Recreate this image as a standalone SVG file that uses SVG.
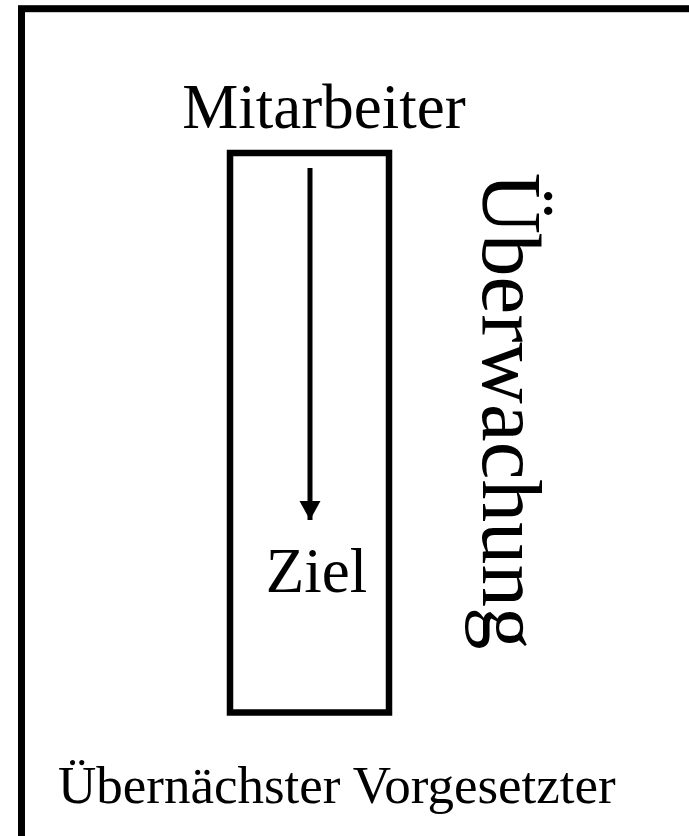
<svg xmlns="http://www.w3.org/2000/svg" width="689" height="836" viewBox="0 0 689 836">
<style>
  .box { fill: none; stroke: #000; }
  .lbl { font-family: "Liberation Serif", "Times New Roman", serif; fill: #000; }
</style>
<defs>
  <marker id="ah" markerUnits="userSpaceOnUse" markerWidth="22" markerHeight="22" refX="19" refY="11" orient="auto">
    <path d="M0,0.5 L19,11 L0,21.5 Z" fill="#000"/>
  </marker>
</defs>
<rect width="689" height="836" fill="#fff"/>
<g id="outer">
  <rect class="box" x="21.5" y="8.7" width="700" height="860" stroke-width="7"/>
  <text class="lbl" x="58" y="803" font-size="53">Übernächster Vorgesetzter</text>
</g>
<g id="inner">
  <rect class="box" x="230" y="153" width="159" height="559.5" stroke-width="6.5"/>
</g>
<g id="mitarbeiter">
  <text class="lbl" x="324" y="128" font-size="63" text-anchor="middle">Mitarbeiter</text>
</g>
<g id="ziel">
  <text class="lbl" x="316.5" y="592" font-size="63" text-anchor="middle">Ziel</text>
</g>
<g id="ueberwachung">
  <text class="lbl" font-size="85" text-anchor="middle" transform="translate(483,411) rotate(90)">Überwachung</text>
</g>
<g id="connectors">
  <line x1="310" y1="168" x2="310" y2="520" stroke="#000" stroke-width="5" marker-end="url(#ah)"/>
</g>
</svg>
